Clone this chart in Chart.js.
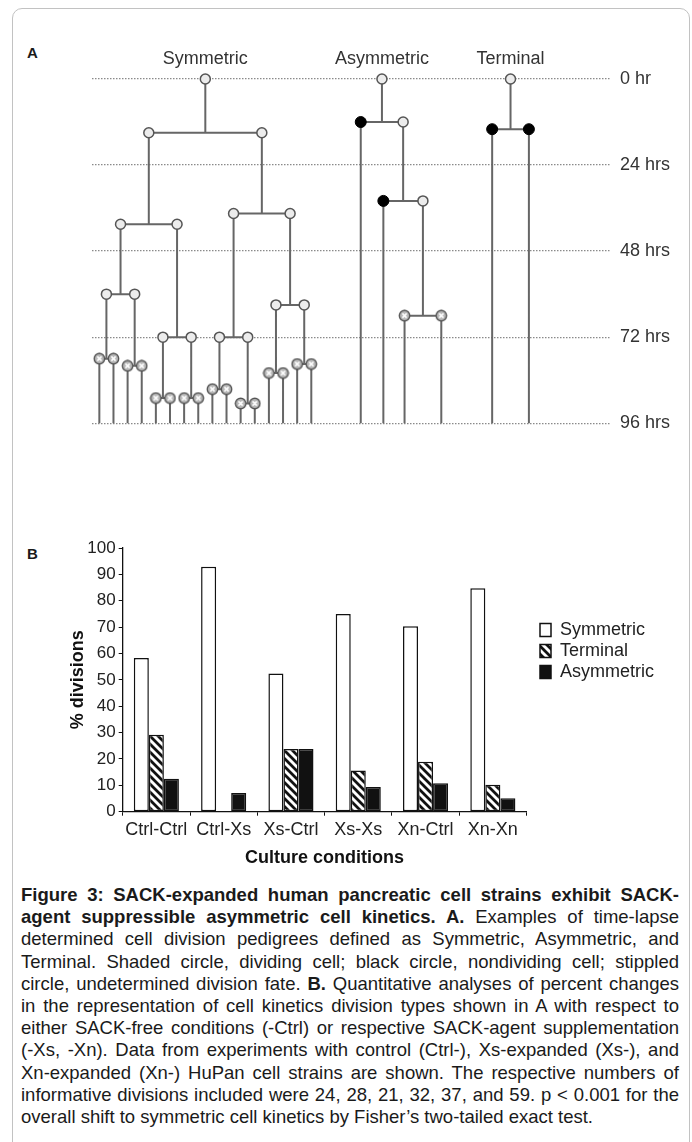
<!DOCTYPE html>
<html>
<head>
<meta charset="utf-8">
<script src="https://cdn.jsdelivr.net/npm/chart.js@4"></script>
<style>
  body { margin: 0; background: #fff; font-family: "Liberation Sans", Arial, sans-serif; color: #1a1a1a; }
  #page { position: relative; width: 692px; height: 1142px; overflow: hidden; }
  #frame { position: absolute; left: 12px; top: 8px; width: 676px; height: 1200px; border: 1px solid #c2c2c2; border-radius: 10px; }
  .panel { position: absolute; left: 27px; font-weight: bold; font-size: 15px; line-height: 15px; }
  canvas { position: absolute; left: 0; }
  #caption { position: absolute; left: 21px; top: 884px; width: 658px; font-size: 18.5px; line-height: 22.2px; }
  #caption div { text-align: justify; text-align-last: justify; }
  #caption div.last { text-align: left; text-align-last: left; }
</style>
</head>
<body>
<div id="page">
  <div id="frame"></div>
  <div class="panel" style="top:45px">A</div>
  <canvas id="pedigrees" width="692" height="444" style="top:0"></canvas>
  <div class="panel" style="top:546px">B</div>
  <canvas id="divisions" width="692" height="350" style="top:530px"></canvas>
  <div id="caption">
    <div><b>Figure 3: SACK-expanded human pancreatic cell strains exhibit SACK-</b></div>
    <div><b>agent suppressible asymmetric cell kinetics. A.</b> Examples of time-lapse</div>
    <div>determined cell division pedigrees defined as Symmetric, Asymmetric, and</div>
    <div>Terminal. Shaded circle, dividing cell; black circle, nondividing cell; stippled</div>
    <div>circle, undetermined division fate. <b>B.</b> Quantitative analyses of percent changes</div>
    <div>in the representation of cell kinetics division types shown in A with respect to</div>
    <div>either SACK-free conditions (-Ctrl) or respective SACK-agent supplementation</div>
    <div>(-Xs, -Xn). Data from experiments with control (Ctrl-), Xs-expanded (Xs-), and</div>
    <div>Xn-expanded (Xn-) HuPan cell strains are shown. The respective numbers of</div>
    <div>informative divisions included were 24, 28, 21, 32, 37, and 59. p &lt; 0.001 for the</div>
    <div class="last">overall shift to symmetric cell kinetics by Fisher’s two-tailed exact test.</div>
  </div>
</div>
<script>
// panel A: time axis (hrs) and the three example pedigrees
var timePoints = [0, 24, 48, 72, 96];
var pedigreeNames = ['Symmetric', 'Asymmetric', 'Terminal'];

// a cell is [fate, hour it divides, daughters]
// fate: d = dividing (shaded), n = nondividing (black), u = undetermined (stippled)
var symmetricTree = ['d', 15, [
  ['d', 40.5, [
    ['d', 60, [['d', 78, [['u'], ['u']]], ['d', 80, [['u'], ['u']]]]],
    ['d', 72, [['d', 89, [['u'], ['u']]], ['d', 89, [['u'], ['u']]]]]
  ]],
  ['d', 37.5, [
    ['d', 72, [['d', 86.5, [['u'], ['u']]], ['d', 90.5, [['u'], ['u']]]]],
    ['d', 63, [['d', 82, [['u'], ['u']]], ['d', 79.5, [['u'], ['u']]]]]
  ]]
]];
var asymmetricTree = ['d', 12, [['n'], ['d', 34, [['n'], ['d', 66, [['u'], ['u']]]]]]];
var terminalTree = ['d', 14, [['n'], ['n']]];

// horizontal lane of the last cells of each pedigree, left to right
var symmetricLeaves = [0, 1, 2, 3, 4, 5, 6, 7, 8, 9, 10, 11, 12, 13, 14, 15];
var asymmetricLeaves = [18.5, 20.1, 21.6, 24.2];
var terminalLeaves = [27.8, 30.4];

// panel B: % of divisions per culture condition
var conditions = ['Ctrl-Ctrl', 'Ctrl-Xs', 'Xs-Ctrl', 'Xs-Xs', 'Xn-Ctrl', 'Xn-Xn'];
var symmetricPct = [58.3, 92.9, 52.4, 75.0, 70.3, 84.7];
var terminalPct = [29.2, 0, 23.8, 15.6, 18.9, 10.2];
var asymmetricPct = [12.5, 7.1, 23.8, 9.4, 10.8, 5.1];

Chart.defaults.font.family = "'Liberation Sans', Arial, sans-serif";
Chart.defaults.color = '#222';

var endHour = timePoints[timePoints.length - 1];
var marks = {d: [], n: [], u: [], links: []};
var gap = {x: null, y: null};

function place(cell, born, slots) {
  var x;
  if (cell[2]) {
    var kids = cell[2].map(function (k) { return place(k, cell[1], slots); });
    x = (kids[0] + kids[kids.length - 1]) / 2;
    marks.links.push({x: kids[0], y: cell[1]}, {x: kids[kids.length - 1], y: cell[1]}, gap);
    marks.links.push({x: x, y: born}, {x: x, y: cell[1]}, gap);
  } else {
    x = slots.shift();
    marks.links.push({x: x, y: born}, {x: x, y: endHour}, gap);
  }
  marks[cell[0]].push({x: x, y: born});
  return x;
}

var roots = [
  place(symmetricTree, 0, symmetricLeaves.slice()),
  place(asymmetricTree, 0, asymmetricLeaves.slice()),
  place(terminalTree, 0, terminalLeaves.slice())
];

// stippled circle for cells of undetermined fate
var stipple = (function () {
  var c = document.createElement('canvas');
  c.width = c.height = 13;
  var g = c.getContext('2d');
  g.beginPath();
  g.arc(6.5, 6.5, 5.2, 0, 2 * Math.PI);
  g.fillStyle = '#b8b8b8';
  g.fill();
  g.lineWidth = 1.4;
  g.strokeStyle = '#555';
  g.stroke();
  g.strokeStyle = '#fff';
  g.lineWidth = 1.5;
  g.beginPath();
  g.moveTo(4.4, 4.4); g.lineTo(8.6, 8.6);
  g.moveTo(8.6, 4.4); g.lineTo(4.4, 8.6);
  g.stroke();
  return c;
})();

new Chart(document.getElementById('pedigrees'), {
  type: 'scatter',
  data: {
    datasets: [
      { label: 'dividing', data: marks.d, pointRadius: 5, pointBackgroundColor: '#ececec',
        pointBorderColor: '#555', pointBorderWidth: 1.5, clip: false },
      { label: 'nondividing', data: marks.n, pointRadius: 5.5, pointBackgroundColor: '#000',
        pointBorderColor: '#000', pointBorderWidth: 1, clip: false },
      { label: 'undetermined', data: marks.u, pointStyle: stipple, pointRadius: 6, clip: false },
      { label: 'lineage', data: marks.links, showLine: true, pointRadius: 0, borderColor: '#666',
        borderWidth: 2, spanGaps: false, clip: false }
    ]
  },
  options: {
    responsive: false,
    animation: false,
    events: [],
    layout: { padding: { left: 92, right: 0, top: 0, bottom: 11.5 } },
    plugins: { legend: { display: false }, tooltip: { enabled: false } },
    scales: {
      x: {
        type: 'linear', position: 'top', min: -0.52, max: 36.14,
        grid: { display: false },
        border: { display: false },
        ticks: {
          autoSkip: false, maxRotation: 0, padding: 1, color: '#333', font: { size: 18 },
          callback: function (v, i) { return pedigreeNames[i]; }
        },
        afterBuildTicks: function (s) { s.ticks = roots.map(function (r) { return { value: r }; }); },
        afterFit: function (s) { s.height = 79; }
      },
      y: {
        type: 'linear', position: 'right', reverse: true, min: 0, max: endHour,
        grid: { color: '#8a8a8a', lineWidth: 1.3, drawTicks: false },
        border: { display: false, dash: [1.5, 1.5] },
        ticks: {
          padding: 10, color: '#333', font: { size: 18 },
          callback: function (v) { return v === 0 ? '0 hr' : v + ' hrs'; }
        },
        afterBuildTicks: function (s) { s.ticks = timePoints.map(function (h) { return { value: h }; }); },
        afterFit: function (s) { s.width = 82; }
      }
    }
  }
});

// diagonal hatching for the Terminal bars
var hatch = (function () {
  var c = document.createElement('canvas');
  c.width = c.height = 8;
  var g = c.getContext('2d');
  g.fillStyle = '#fff';
  g.fillRect(0, 0, 8, 8);
  g.strokeStyle = '#111';
  g.lineWidth = 2.8;
  g.beginPath();
  for (var k = -1; k <= 1; k++) {
    g.moveTo(k * 8 - 2, -2);
    g.lineTo(k * 8 + 10, 10);
  }
  g.stroke();
  return g.createPattern(c, 'repeat');
})();

new Chart(document.getElementById('divisions'), {
  type: 'bar',
  data: {
    labels: conditions,
    datasets: [
      { label: 'Symmetric', data: symmetricPct, backgroundColor: '#fff', borderColor: '#111', borderWidth: 1.5 },
      { label: 'Terminal', data: terminalPct, backgroundColor: hatch, borderColor: '#111', borderWidth: 1.5 },
      { label: 'Asymmetric', data: asymmetricPct, backgroundColor: '#111', borderColor: '#111', borderWidth: 1.5 }
    ]
  },
  options: {
    responsive: false,
    animation: false,
    events: [],
    datasets: { bar: { categoryPercentage: 0.67, barPercentage: 1, borderSkipped: false } },
    layout: { padding: { left: 58, top: 18, bottom: 8.3, right: 28 } },
    plugins: {
      tooltip: { enabled: false },
      legend: {
        position: 'right', align: 'start', fullSize: false, maxWidth: 155,
        title: { display: true, text: '', padding: { top: 58, bottom: 0 }, font: { size: 10 } },
        labels: { boxWidth: 11, boxHeight: 13, padding: 3, color: '#222', font: { size: 18 } }
      }
    },
    scales: {
      x: {
        grid: { drawOnChartArea: false, tickLength: 4, color: '#111', offset: true },
        border: { color: '#111', width: 1.3 },
        ticks: { padding: 4, color: '#222', font: { size: 18 }, maxRotation: 0, autoSkip: false },
        title: { display: true, text: 'Culture conditions', color: '#111',
                 font: { size: 18, weight: 'bold' }, padding: { top: 0, bottom: 3 } },
        afterFit: function (s) { s.height = 60; }
      },
      y: {
        min: 0, max: 100,
        ticks: { stepSize: 10, padding: 3, color: '#222', font: { size: 17 } },
        grid: { drawOnChartArea: false, tickLength: 4, color: '#111' },
        border: { color: '#111', width: 1.3 },
        title: { display: true, text: '% divisions', color: '#111',
                 font: { size: 18, weight: 'bold' }, padding: { top: 9.5, bottom: 0 } },
        afterFit: function (s) { s.width = 64.7; }
      },
      gap: {
        type: 'linear', position: 'right', display: true,
        grid: { display: false }, border: { display: false }, ticks: { display: false },
        afterFit: function (s) { s.width = 10.5; }
      }
    }
  }
});
</script>
</body>
</html>
